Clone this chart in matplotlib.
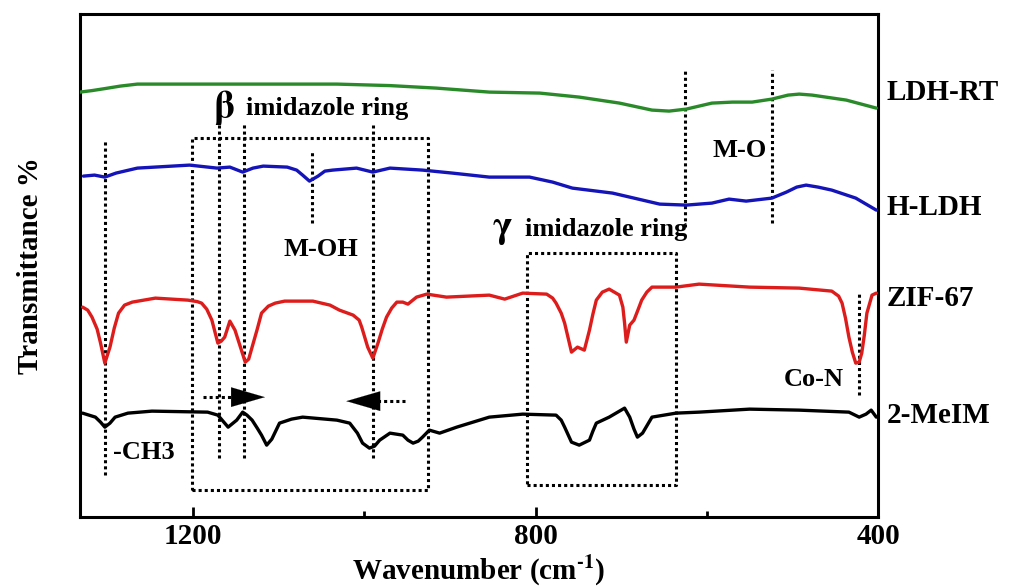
import matplotlib
matplotlib.use('Agg')
import matplotlib.pyplot as plt
from matplotlib.ticker import FixedLocator

plt.rcParams['font.family'] = ['Liberation Serif', 'DejaVu Serif']
plt.rcParams['font.weight'] = 'bold'
plt.rcParams['mathtext.fontset'] = 'stix'

# Espectros FTIR (transmitancia en unidades arbitrarias, curvas desplazadas)
wn_ldh_rt = [1332, 1318, 1303, 1285, 1265, 1215, 1134, 1032, 970, 916, 854,
             795, 749, 702, 664, 644, 624, 594, 570, 547, 524, 505, 492, 477,
             437, 402]
t_ldh_rt = [85.0, 85.3, 85.7, 86.2, 86.6, 86.6, 86.6, 86.6, 86.3, 85.8, 85.0,
            84.8, 84.0, 82.8, 81.4, 81.2, 81.6, 82.8, 83.0, 83.0, 83.6, 84.4,
            84.6, 84.4, 83.4, 81.8]

wn_h_ldh = [1328, 1315, 1303, 1290, 1265, 1204, 1172, 1157, 1142, 1130, 1118,
            1090, 1079, 1072, 1064, 1054, 1046, 1037, 1009, 990, 970, 932,
            897, 854, 807, 780, 757, 710, 680, 655, 624, 594, 574, 554, 524,
            507, 495, 484, 470, 454, 426, 402]
t_h_ldh = [68.2, 68.4, 68.0, 68.8, 69.8, 70.4, 69.8, 70.0, 69.0, 69.8, 70.2,
           70.0, 69.4, 68.4, 67.2, 68.2, 69.2, 69.4, 69.8, 69.0, 69.8, 69.4,
           68.8, 68.0, 68.0, 67.0, 65.8, 64.8, 63.6, 62.6, 62.4, 62.8, 63.6,
           63.2, 63.8, 65.0, 66.0, 66.4, 66.0, 65.4, 63.8, 61.4]

wn_zif = [1329, 1323, 1318, 1312, 1308, 1303, 1297, 1292, 1287, 1280, 1271,
          1244, 1206, 1195, 1190, 1184, 1178, 1171, 1167, 1163, 1157, 1151,
          1145, 1139, 1135, 1131, 1125, 1120, 1112, 1104, 1093, 1060, 1040,
          1029, 1013, 1006, 1003, 996, 990, 984, 979, 974, 968, 962, 955, 949,
          939, 927, 904, 854, 836, 815, 787, 780, 776, 770, 766, 758, 751,
          743, 737, 733, 729, 722, 714, 702, 698, 696, 694, 690, 685, 680,
          676, 670, 664, 636, 609, 550, 492, 454, 446, 442, 438, 434, 430,
          426, 422, 419, 416, 413, 407, 402]
t_zif = [42.0, 41.4, 40.0, 37.6, 34.8, 30.8, 34.0, 37.8, 40.8, 42.4, 43.0,
         43.8, 43.4, 43.1, 42.8, 41.6, 39.4, 34.8, 35.2, 36.0, 39.2, 37.4,
         34.2, 31.0, 31.6, 34.0, 37.6, 40.8, 42.2, 42.8, 43.2, 43.2, 42.4,
         41.4, 40.4, 39.4, 38.0, 34.0, 31.8, 34.8, 37.6, 40.0, 41.8, 43.0,
         43.0, 42.6, 44.0, 44.6, 44.0, 44.4, 43.6, 44.8, 44.6, 43.8, 42.8,
         40.8, 38.8, 33.0, 34.0, 33.4, 37.4, 40.6, 43.4, 45.0, 45.6, 44.4,
         42.0, 38.8, 35.0, 38.4, 39.4, 41.6, 43.4, 45.0, 46.0, 46.0, 46.6,
         46.0, 45.8, 45.2, 44.2, 42.8, 39.8, 36.0, 33.0, 30.8, 31.0, 32.8,
         36.4, 40.8, 44.4, 44.8]

wn_meim = [1329, 1314, 1308, 1303, 1297, 1291, 1276, 1248, 1183, 1171, 1165,
           1159, 1149, 1142, 1137, 1131, 1125, 1120, 1114, 1108, 1099, 1085,
           1072, 1032, 1017, 1008, 1002, 994, 988, 982, 970, 955, 949, 943,
           937, 932, 924, 912, 892, 854, 815, 776, 770, 766, 758, 749, 737,
           733, 729, 714, 696, 690, 685, 681, 675, 664, 636, 609, 550, 492,
           434, 422, 414, 408, 402]
t_meim = [20.8, 20.0, 19.0, 18.0, 18.8, 20.0, 20.8, 21.2, 21.0, 20.4, 19.2,
          18.0, 19.4, 21.0, 20.4, 19.4, 17.8, 16.4, 14.4, 15.6, 18.8, 19.6,
          20.0, 19.4, 18.8, 16.8, 14.8, 13.8, 14.2, 15.4, 16.8, 16.4, 15.4,
          14.8, 15.2, 16.0, 17.4, 16.8, 18.0, 20.0, 20.6, 20.4, 19.4, 18.0,
          15.0, 14.4, 15.4, 17.2, 18.8, 20.0, 21.8, 20.0, 17.6, 16.0, 16.8,
          20.0, 20.8, 21.0, 21.6, 21.4, 21.0, 20.0, 20.6, 21.4, 20.0]

series = [
    (wn_ldh_rt, t_ldh_rt, '#2a8a2a', 'LDH-RT', 85.0),
    (wn_h_ldh, t_h_ldh, '#1414b8', 'H-LDH', 62.0),
    (wn_zif, t_zif, '#dd1c1c', 'ZIF-67', 43.8),
    (wn_meim, t_meim, '#000000', '2-MeIM', 20.4),
]

DOT = (0, (1.0, 1.0))
DLW = 2.2

fig = plt.figure(figsize=(10.14, 5.87), dpi=100)
ax = fig.add_axes([0.0789, 0.119, 0.7870, 0.857])

for wn, t, col, name, ylab in series:
    ax.plot(wn, t, color=col, lw=2.4, zorder=3,
            solid_joinstyle='round', solid_capstyle='round')
    ax.text(1.011, ylab, name, transform=ax.get_yaxis_transform(),
            fontsize=21, fontweight='bold', ha='left', va='center',
            clip_on=False)

# Líneas punteadas de asignación de bandas
vlines = [
    (1303, 8.4, 75.4),
    (1170, 11.8, 78.8),
    (1141, 11.8, 78.8),
    (1061, 58.8, 73.4),
    (990, 11.8, 78.4),
    (625, 58.0, 89.4),
    (524, 58.8, 89.4),
    (422, 24.4, 44.8),
]
for x, y0, y1 in vlines:
    ax.plot([x, x], [y0, y1], color='k', lw=DLW, ls=DOT, zorder=2)

# Recuadros de los anillos de imidazol (beta y gamma)
for x0, x1, y0, y1 in [(1201, 926, 5.4, 75.8), (810, 636, 6.4, 52.8)]:
    ax.plot([x0, x1, x1, x0, x0], [y0, y0, y1, y1, y0],
            color='k', lw=DLW, ls=DOT, zorder=2)

# Flechas de desplazamiento
head = dict(arrowstyle='-|>,head_length=1.1,head_width=0.32', color='k',
            lw=0.1, mutation_scale=22, shrinkA=0, shrinkB=0)
ax.plot([1188, 1146], [24.0, 24.0], color='k', lw=DLW, ls=DOT)
ax.annotate('', xy=(1116, 24.0), xytext=(1146, 24.0), arrowprops=head)
ax.plot([953, 994], [23.2, 23.2], color='k', lw=DLW, ls=DOT)
ax.annotate('', xy=(1021, 23.2), xytext=(994, 23.2), arrowprops=head)

# Etiquetas de bandas
ax.text(1164, 82.0, r'$\mathbf{\beta}$', fontsize=27, ha='center', va='center')
ax.text(1043, 81.8, 'imidazole ring', fontsize=19, ha='center', va='center')
ax.text(1051, 53.6, 'M-OH', fontsize=19, ha='center', va='center')
ax.text(562, 73.4, 'M-O', fontsize=19, ha='center', va='center')
ax.text(839, 57.6, r'$\mathbf{\gamma}$', fontsize=27, ha='center', va='center')
ax.text(717, 57.6, 'imidazole ring', fontsize=19, ha='center', va='center')
ax.text(475, 27.6, 'Co-N', fontsize=19, ha='center', va='center')
ax.text(1294, 13.0, '-CH3', fontsize=19, ha='left', va='center')

ax.set_xlim(1332, 400)
ax.set_ylim(0, 100.6)
ax.xaxis.set_major_locator(FixedLocator([1200, 800, 400]))
ax.xaxis.set_minor_locator(FixedLocator([1000, 600]))
ax.tick_params(axis='x', which='major', direction='in', length=7, width=2,
               labelsize=21, pad=4)
ax.tick_params(axis='x', which='minor', direction='in', length=4.5, width=2)
ax.set_yticks([])
for sp in ax.spines.values():
    sp.set_linewidth(2.2)
for lab in ax.get_xticklabels():
    lab.set_fontweight('bold')

ax.set_xlabel(r'Wavenumber (cm$^{\mathbf{\text{-}1}}$)', fontsize=21,
              fontweight='bold', labelpad=2)
ax.set_ylabel('Transmittance %', fontsize=21, fontweight='bold', labelpad=26)

fig.savefig('out.png', dpi=100, facecolor='white')
